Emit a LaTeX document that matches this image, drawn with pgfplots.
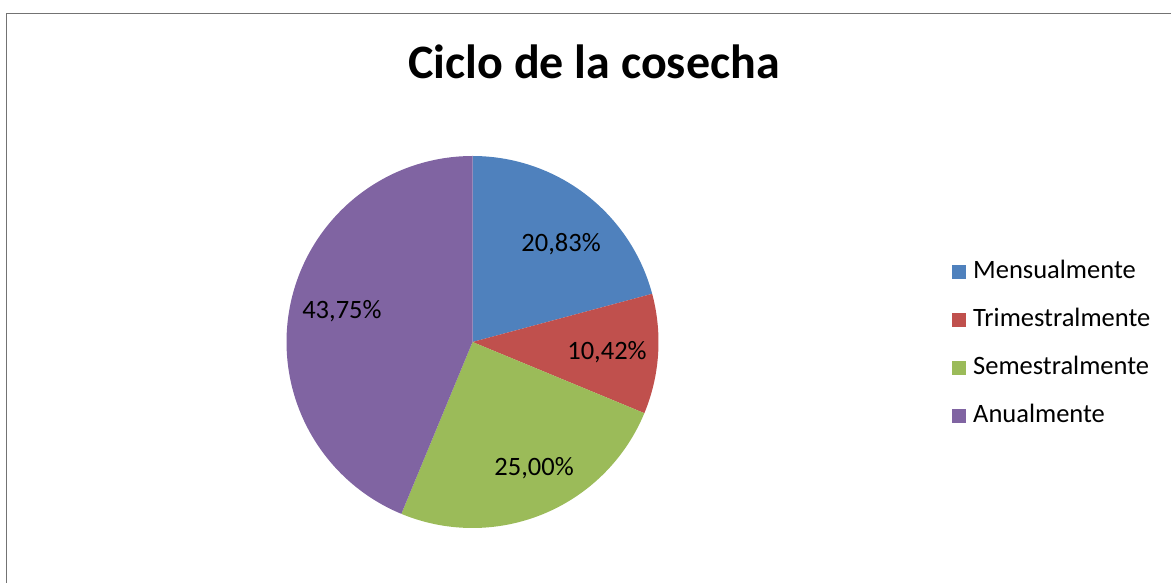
\documentclass[border=0pt]{standalone}
\usepackage{fontspec}
\setmainfont{Carlito}
\usepackage{pgfplots}
\pgfplotsset{compat=1.18}

\definecolor{cMen}{HTML}{4F81BD}
\definecolor{cTri}{HTML}{C0504D}
\definecolor{cSem}{HTML}{9BBB59}
\definecolor{cAnu}{HTML}{8064A2}

% shares in percent
\def\vMen{20.83}
\def\vTri{10.42}
\def\vSem{25.00}
\def\vAnu{43.75}

% cumulative angles, clockwise from the top
\pgfmathsetmacro\aA{90}
\pgfmathsetmacro\aB{\aA-3.6*\vMen}
\pgfmathsetmacro\aC{\aB-3.6*\vTri}
\pgfmathsetmacro\aD{\aC-3.6*\vSem}
\pgfmathsetmacro\aE{\aD-3.6*\vAnu}

\newcommand\lblfont{\fontsize{26.5}{30}\selectfont}

\begin{document}
\begin{tikzpicture}[x=1pt,y=1pt]
\path[use as bounding box] (0,0) rectangle (1171,583);
\draw[gray!90!black, line width=1.3pt] (6.5,0) -- (6.5,569.5) -- (1171,569.5);
\node[anchor=base, font=\fontsize{48}{56}\selectfont\bfseries] at (594,504) {Ciclo de la cosecha};

\begin{axis}[
  at={(472.5pt,241pt)}, anchor=origin,
  x=186pt, y=186pt,
  xmin=-1, xmax=1, ymin=-1, ymax=1,
  hide axis, clip=false,
  legend style={draw=none, fill=none, inner sep=0pt,
    at={(axis cs:2.575,-0.012)}, anchor=west,
    font=\lblfont,
    row sep=24pt, column sep=6pt,
    nodes={text height=17pt, text depth=5pt, inner sep=1pt}},
  legend cell align=left,
  legend image code/.code={\fill[#1] (0pt,-7pt) rectangle (14.5pt,7.5pt);},
  every axis plot/.append style={draw=none, samples=120}]
\addplot[fill=cMen, domain=\aB:\aA] ({cos(x)},{sin(x)}) -- (0,0) -- cycle;
\addlegendentry{Mensualmente}
\addplot[fill=cTri, domain=\aC:\aB] ({cos(x)},{sin(x)}) -- (0,0) -- cycle;
\addlegendentry{Trimestralmente}
\addplot[fill=cSem, domain=\aD:\aC] ({cos(x)},{sin(x)}) -- (0,0) -- cycle;
\addlegendentry{Semestralmente}
\addplot[fill=cAnu, domain=\aE:\aD] ({cos(x)},{sin(x)}) -- (0,0) -- cycle;
\addlegendentry{Anualmente}

\node[font=\lblfont] at (axis cs:0.476,0.527) {20,83\%};
\node[font=\lblfont] at (axis cs:0.723,-0.054) {10,42\%};
\node[font=\lblfont] at (axis cs:0.331,-0.677) {25,00\%};
\node[font=\lblfont] at (axis cs:-0.702,0.167) {43,75\%};
\end{axis}
\end{tikzpicture}
\end{document}
